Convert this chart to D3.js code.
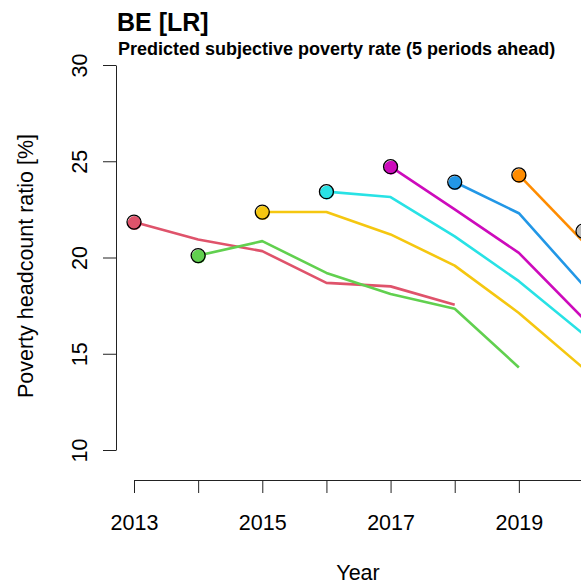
<!DOCTYPE html>
<html>
<head>
<meta charset="utf-8">
<script src="https://cdn.jsdelivr.net/npm/d3@7"></script>
<style>
  html, body { margin: 0; padding: 0; background: #fff; }
  svg { display: block; font-family: "Liberation Sans", Arial, sans-serif; }
</style>
</head>
<body>
<svg class="chart" width="581" height="586"></svg>
<script>
// Data: each series starts at its origin year and runs 5 periods ahead
const startYears = [2013, 2014, 2015, 2016, 2017, 2018, 2019, 2020];
const s2013 = [21.84, 20.94, 20.33, 18.68, 18.5, 17.55];
const s2014 = [20.1, 20.85, 19.2, 18.1, 17.34, 14.29];
const s2015 = [22.36, 22.36, 21.2, 19.58, 17.12, 14.27];
const s2016 = [23.42, 23.14, 21.1, 18.77, 16.04];
const s2017 = [24.72, 22.5, 20.24, 16.85];
const s2018 = [23.92, 22.3, 18.58];
const s2019 = [24.29, 20.84];
const s2020 = [21.37];
const seriesColors = ['#DF536B', '#61D04F', '#F5C710', '#28E2E5', '#CD0BBC', '#2297E6', '#FF8C00', '#BEBEBE'];
const yTicks = [10, 15, 20, 25, 30];
const xTicks = [2013, 2014, 2015, 2016, 2017, 2018, 2019, 2020];
const xLabels = [2013, 2015, 2017, 2019];

const series = [s2013, s2014, s2015, s2016, s2017, s2018, s2019, s2020].map((vals, i) => ({
  color: seriesColors[i],
  points: vals.map((v, j) => ({ year: startYears[i] + j, value: v }))
}));

// Scales
const x = d3.scaleLinear().domain([2013, 2020]).range([134, 583]);
const y = d3.scaleLinear().domain([10, 30]).range([450, 65]);

const chart = d3.select('.chart');
const font = '"Liberation Sans", Arial, sans-serif';

// Titles
chart.append('text')
  .attr('x', 117).attr('y', 31)
  .attr('font-size', 25).attr('font-weight', 'bold')
  .text('BE [LR]');

chart.append('text')
  .attr('x', 118).attr('y', 55)
  .attr('font-size', 18).attr('font-weight', 'bold')
  .text('Predicted subjective poverty rate (5 periods ahead)');

// X axis (line runs on past the right edge)
const xAxisScale = x.copy().domain([2013, 2021]).range([x(2013), x(2021)]);
const xAxis = d3.axisBottom(xAxisScale)
  .tickValues(xTicks)
  .tickSize(13)
  .tickSizeOuter(0)
  .tickPadding(22)
  .tickFormat(d => d);

const gx = chart.append('g')
  .attr('transform', 'translate(0, 480)')
  .call(xAxis);
gx.selectAll('line, path').attr('stroke', '#222');
gx.selectAll('.tick text')
  .filter(d => !xLabels.includes(d))
  .remove();
gx.selectAll('text').attr('font-size', 21.5).attr('font-family', font).attr('fill', '#000');

// Y axis
const yAxis = d3.axisLeft(y)
  .tickValues(yTicks)
  .tickSize(13)
  .tickSizeOuter(0);

const gy = chart.append('g')
  .attr('transform', 'translate(116, 0)')
  .call(yAxis);
gy.selectAll('line, path').attr('stroke', '#222');
gy.selectAll('text')
  .attr('font-size', 21.5).attr('font-family', font).attr('fill', '#000')
  .attr('text-anchor', 'middle')
  .attr('x', 0).attr('y', 0).attr('dy', 0)
  .attr('transform', 'translate(-29, 0) rotate(-90)');

// Axis titles
chart.append('text')
  .attr('x', 358).attr('y', 580)
  .attr('text-anchor', 'middle')
  .attr('font-size', 21.5)
  .text('Year');

chart.append('text')
  .attr('transform', 'translate(33, 266) rotate(-90)')
  .attr('text-anchor', 'middle')
  .attr('font-size', 21.5)
  .text('Poverty headcount ratio [%]');

// Lines
const line = d3.line().x(d => x(d.year)).y(d => y(d.value));

chart.selectAll('.series-line')
  .data(series.filter(s => s.points.length > 1))
  .enter().append('path')
  .attr('class', 'series-line')
  .attr('d', d => line(d.points))
  .attr('fill', 'none')
  .attr('stroke', d => d.color)
  .attr('stroke-width', 2.6)
  .attr('stroke-linejoin', 'round');

// Start points
const starts = chart.selectAll('.start')
  .data(series)
  .enter().append('g')
  .attr('class', 'start')
  .attr('transform', d => `translate(${x(d.points[0].year)}, ${y(d.points[0].value)})`);

starts.append('circle')
  .attr('cx', 0.5).attr('cy', 1)
  .attr('r', 7)
  .attr('fill', d => d.color);

starts.append('circle')
  .attr('r', 7)
  .attr('fill', 'none')
  .attr('stroke', '#000')
  .attr('stroke-width', 1.3);
</script>
</body>
</html>
